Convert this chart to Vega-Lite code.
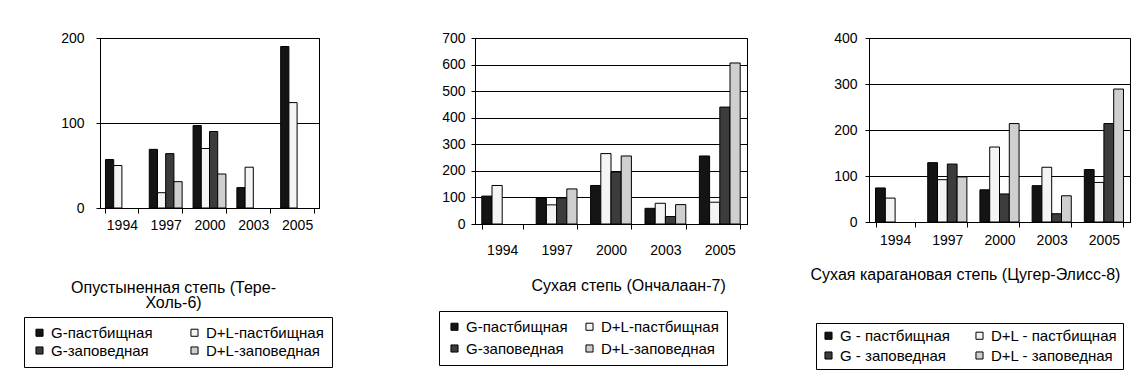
{
  "$schema": "https://vega.github.io/schema/vega-lite/v6.json",
  "background": "white",
  "padding": {"left": 23, "top": 30, "right": 0, "bottom": 0},
  "autosize": {"type": "pad"},
  "datasets": {
    "p1": [
      {"year": "1994", "series": "G-пастбищная", "value": 57},
      {"year": "1994", "series": "D+L-пастбищная", "value": 50},
      {"year": "1997", "series": "G-пастбищная", "value": 69},
      {"year": "1997", "series": "D+L-пастбищная", "value": 18},
      {"year": "1997", "series": "G-заповедная", "value": 64},
      {"year": "1997", "series": "D+L-заповедная", "value": 31},
      {"year": "2000", "series": "G-пастбищная", "value": 97},
      {"year": "2000", "series": "D+L-пастбищная", "value": 70},
      {"year": "2000", "series": "G-заповедная", "value": 90},
      {"year": "2000", "series": "D+L-заповедная", "value": 40},
      {"year": "2003", "series": "G-пастбищная", "value": 24},
      {"year": "2003", "series": "D+L-пастбищная", "value": 48},
      {"year": "2005", "series": "G-пастбищная", "value": 190},
      {"year": "2005", "series": "D+L-пастбищная", "value": 124}
    ],
    "p2": [
      {"year": "1994", "series": "G-пастбищная", "value": 105},
      {"year": "1994", "series": "D+L-пастбищная", "value": 145},
      {"year": "1997", "series": "G-пастбищная", "value": 98},
      {"year": "1997", "series": "D+L-пастбищная", "value": 72},
      {"year": "1997", "series": "G-заповедная", "value": 98},
      {"year": "1997", "series": "D+L-заповедная", "value": 132},
      {"year": "2000", "series": "G-пастбищная", "value": 145},
      {"year": "2000", "series": "D+L-пастбищная", "value": 265},
      {"year": "2000", "series": "G-заповедная", "value": 195},
      {"year": "2000", "series": "D+L-заповедная", "value": 256},
      {"year": "2003", "series": "G-пастбищная", "value": 59},
      {"year": "2003", "series": "D+L-пастбищная", "value": 78},
      {"year": "2003", "series": "G-заповедная", "value": 28},
      {"year": "2003", "series": "D+L-заповедная", "value": 73},
      {"year": "2005", "series": "G-пастбищная", "value": 256},
      {"year": "2005", "series": "D+L-пастбищная", "value": 82},
      {"year": "2005", "series": "G-заповедная", "value": 440},
      {"year": "2005", "series": "D+L-заповедная", "value": 606}
    ],
    "p3": [
      {"year": "1994", "series": "G -  пастбищная", "value": 74},
      {"year": "1994", "series": "D+L - пастбищная", "value": 52},
      {"year": "1997", "series": "G -  пастбищная", "value": 129},
      {"year": "1997", "series": "D+L - пастбищная", "value": 92},
      {"year": "1997", "series": "G - заповедная", "value": 126},
      {"year": "1997", "series": "D+L - заповедная", "value": 98},
      {"year": "2000", "series": "G -  пастбищная", "value": 70},
      {"year": "2000", "series": "D+L - пастбищная", "value": 163},
      {"year": "2000", "series": "G - заповедная", "value": 61},
      {"year": "2000", "series": "D+L - заповедная", "value": 214},
      {"year": "2003", "series": "G -  пастбищная", "value": 79},
      {"year": "2003", "series": "D+L - пастбищная", "value": 119},
      {"year": "2003", "series": "G - заповедная", "value": 18},
      {"year": "2003", "series": "D+L - заповедная", "value": 57},
      {"year": "2005", "series": "G -  пастбищная", "value": 114},
      {"year": "2005", "series": "D+L - пастбищная", "value": 86},
      {"year": "2005", "series": "G - заповедная", "value": 214},
      {"year": "2005", "series": "D+L - заповедная", "value": 289}
    ]
  },
  "config": {
    "font": "Liberation Sans",
    "view": {"stroke": "black", "strokeWidth": 1},
    "axis": {
      "labelFont": "Liberation Sans", "labelFontSize": 14, "labelColor": "black",
      "domainColor": "black", "tickColor": "black", "gridColor": "black", "gridOpacity": 1,
      "titleFont": "Liberation Sans", "titleFontSize": 16, "titleFontWeight": "normal", "titleColor": "black"
    },
    "legend": {
      "orient": "none", "direction": "horizontal", "columns": 2, "strokeColor": "black", "padding": 8,
      "labelFont": "Liberation Sans", "labelFontSize": 15, "labelColor": "black",
      "symbolType": "square", "symbolSize": 50, "symbolStrokeColor": "black", "symbolStrokeWidth": 1,
      "labelOffset": 4
    }
  },
  "resolve": {"scale": {"fill": "independent", "x": "independent", "y": "independent", "xOffset": "independent"}, "legend": {"fill": "independent"}},
  "spacing": 105,
  "hconcat": [
    {
      "data": {"name": "p1"},
      "width": 219, "height": 170,
      "mark": {"type": "bar", "stroke": "black", "strokeWidth": 1},
      "encoding": {
        "x": {"field": "year", "type": "nominal",
          "scale": {"paddingInner": 0.25, "paddingOuter": 0.125},
          "axis": {"labelAngle": 0, "tickBand": "extent", "tickSize": 5, "labelPadding": 5, "grid": false,
            "title": ["Опустыненная степь (Тере-", "Холь-6)"], "titleX": 73, "titleY": 71, "titleAlign": "center", "titleBaseline": "top", "titleLineHeight": 15}},
        "xOffset": {"field": "series", "type": "nominal", "scale": {"domain": ["G-пастбищная", "D+L-пастбищная", "G-заповедная", "D+L-заповедная"]}},
        "y": {"field": "value", "type": "quantitative", "scale": {"domain": [0, 200], "nice": false},
          "axis": {"values": [0, 100, 200], "grid": true, "tickSize": 4, "title": null, "labelPadding": 12}},
        "fill": {"field": "series", "type": "nominal",
          "scale": {"domain": ["G-пастбищная", "D+L-пастбищная", "G-заповедная", "D+L-заповедная"], "range": ["#141414", "#f4f4f4", "#3c3c3c", "#cfcfcf"]},
          "legend": {"title": null, "legendX": -76, "legendY": 279, "columnPadding": 34, "rowPadding": 2}}
      }
    },
    {
      "spacing": 61,
      "resolve": {"scale": {"fill": "independent", "x": "independent", "y": "independent", "xOffset": "independent"}, "legend": {"fill": "independent"}},
      "hconcat": [
        {
          "data": {"name": "p2"},
          "width": 272, "height": 186,
          "mark": {"type": "bar", "stroke": "black", "strokeWidth": 1},
          "encoding": {
            "x": {"field": "year", "type": "nominal",
              "scale": {"paddingInner": 0.25, "paddingOuter": 0.125},
              "axis": {"labelAngle": 0, "tickBand": "extent", "tickSize": 5, "labelPadding": 14, "grid": false,
                "title": "Сухая степь (Ончалаан-7)", "titleX": 56, "titleY": 53, "titleAlign": "left", "titleBaseline": "top"}},
            "xOffset": {"field": "series", "type": "nominal", "scale": {"domain": ["G-пастбищная", "D+L-пастбищная", "G-заповедная", "D+L-заповедная"]}},
            "y": {"field": "value", "type": "quantitative", "scale": {"domain": [0, 700], "nice": false},
              "axis": {"values": [0, 100, 200, 300, 400, 500, 600, 700], "grid": true, "tickSize": 4, "title": null, "labelPadding": 6}},
            "fill": {"field": "series", "type": "nominal",
              "scale": {"domain": ["G-пастбищная", "D+L-пастбищная", "G-заповедная", "D+L-заповедная"], "range": ["#141414", "#f4f4f4", "#3c3c3c", "#cfcfcf"]},
              "legend": {"title": null, "legendX": -36, "legendY": 273, "columnPadding": 14, "rowPadding": 6}}
          }
        },
        {
          "data": {"name": "p3"},
          "width": 261, "height": 184,
          "mark": {"type": "bar", "stroke": "black", "strokeWidth": 1},
          "encoding": {
            "x": {"field": "year", "type": "nominal",
              "scale": {"paddingInner": 0.25, "paddingOuter": 0.125},
              "axis": {"labelAngle": 0, "tickBand": "extent", "tickSize": 5, "labelPadding": 6, "grid": false,
                "title": "Сухая карагановая степь (Цугер-Элисс-8)", "titleX": -59, "titleY": 44, "titleAlign": "left", "titleBaseline": "top"}},
            "xOffset": {"field": "series", "type": "nominal", "scale": {"domain": ["G -  пастбищная", "D+L - пастбищная", "G - заповедная", "D+L - заповедная"]}},
            "y": {"field": "value", "type": "quantitative", "scale": {"domain": [0, 400], "nice": false},
              "axis": {"values": [0, 100, 200, 300, 400], "grid": true, "tickSize": 4, "title": null, "labelPadding": 8}},
            "fill": {"field": "series", "type": "nominal",
              "scale": {"domain": ["G -  пастбищная", "D+L - пастбищная", "G - заповедная", "D+L - заповедная"], "range": ["#141414", "#f4f4f4", "#3c3c3c", "#cfcfcf"]},
              "legend": {"title": null, "legendX": -53, "legendY": 285, "columnPadding": 17, "rowPadding": 4, "padding": 5}}
          }
        }
      ]
    }
  ]
}
